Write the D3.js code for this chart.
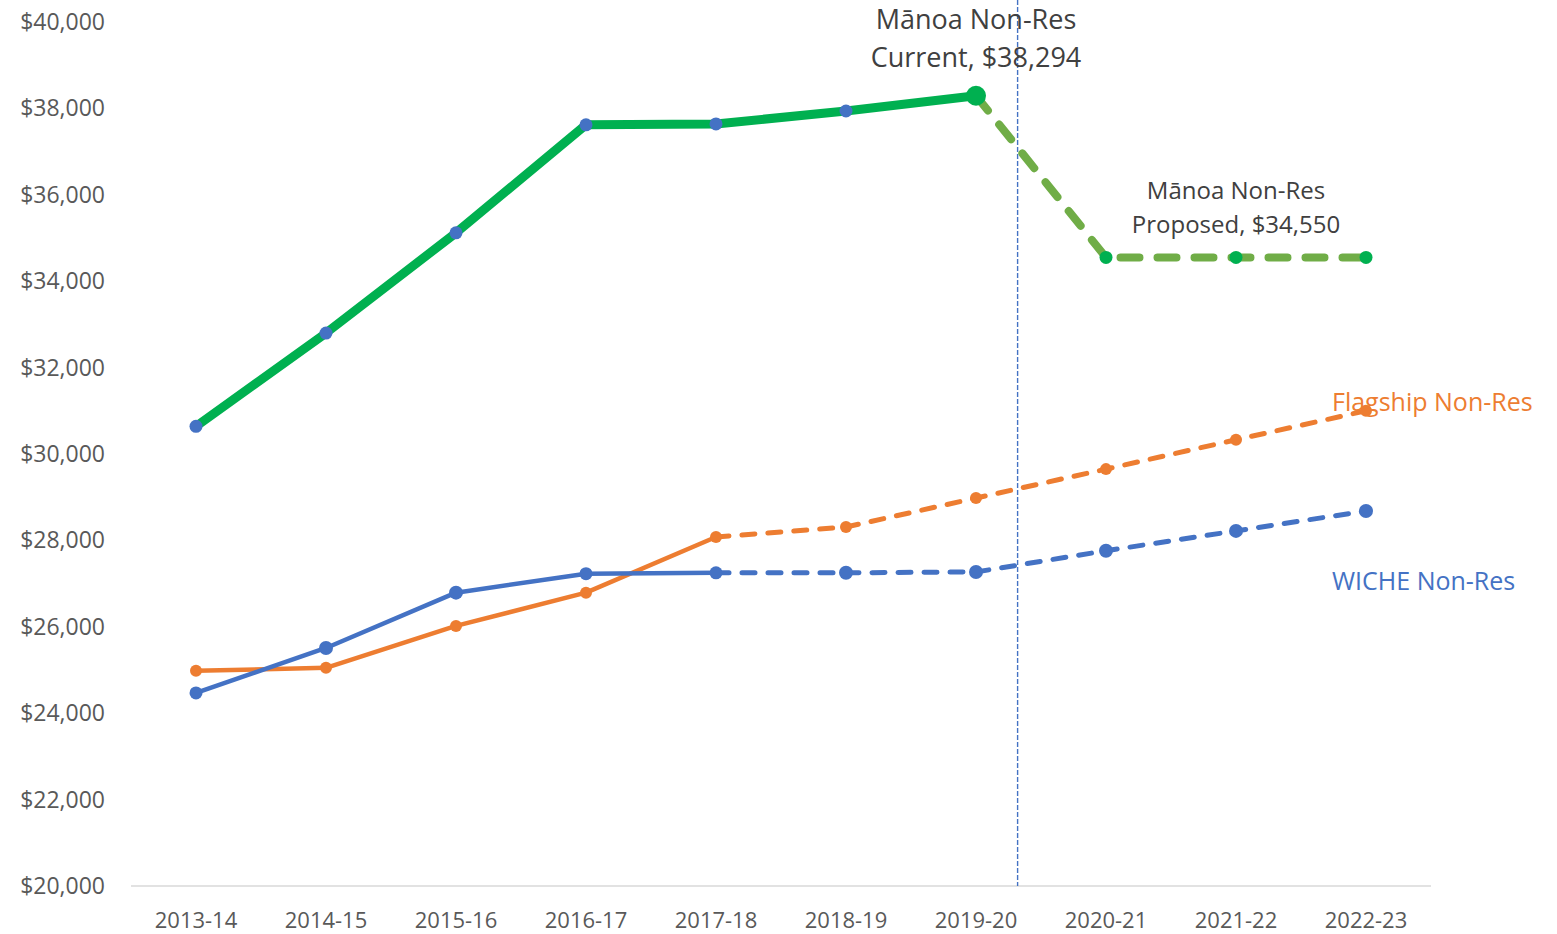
<!DOCTYPE html>
<html>
<head>
<meta charset="utf-8">
<script src="https://cdn.jsdelivr.net/npm/d3@7"></script>
<style>
  body { margin: 0; background: #fff; }
  text { font-family: "Open Sans", "Noto Sans", sans-serif; }
</style>
</head>
<body>
<svg id="chart" width="1557" height="934"></svg>
<script>
// categories and values
const years = ['2013-14', '2014-15', '2015-16', '2016-17', '2017-18', '2018-19', '2019-20', '2020-21', '2021-22', '2022-23'];
const manoa = [30640, 32800, 35120, 37620, 37640, 37940, 38294, 34550, 34550, 34550];
const flagship = [24980, 25050, 26020, 26790, 28080, 28310, 28980, 29650, 30330, 31000];
const wiche = [24470, 25510, 26790, 27230, 27250, 27250, 27270, 27760, 28220, 28680];
const yTicks = [20000, 22000, 24000, 26000, 28000, 30000, 32000, 34000, 36000, 38000, 40000];

const svg = d3.select('#chart');

const x = d3.scaleBand().domain(years).range([131, 1431]);
const y = d3.scaleLinear().domain([20000, 40000]).range([886, 22]);
const cx = d => x(d) + x.bandwidth() / 2;

const fmt = d3.format('$,');

// y labels (no axis line in the original)
svg.append('g')
    .selectAll('text')
    .data(yTicks)
    .join('text')
    .attr('x', 105)
    .attr('y', d => y(d))
    .attr('dy', '0.35em')
    .attr('text-anchor', 'end')
    .attr('font-size', 23)
    .attr('fill', '#595959')
    .text(d => fmt(d));

// x axis
svg.append('line')
    .attr('x1', 131).attr('x2', 1431)
    .attr('y1', y(20000)).attr('y2', y(20000))
    .attr('stroke', '#d9d9d9').attr('stroke-width', 1.5);

svg.append('g')
    .selectAll('text')
    .data(years)
    .join('text')
    .attr('x', d => cx(d))
    .attr('y', 928)
    .attr('text-anchor', 'middle')
    .attr('font-size', 22)
    .attr('fill', '#595959')
    .text(d => d);

// vertical marker between 2019-20 and 2020-21
const divX = x('2019-20') + x.bandwidth() * 0.82;
svg.append('line')
    .attr('x1', divX).attr('x2', divX)
    .attr('y1', 0).attr('y2', y(20000))
    .attr('stroke', '#4472c4').attr('stroke-width', 1.4)
    .attr('stroke-dasharray', '5,2');

const line = d3.line().x(d => cx(d.year)).y(d => y(d.v));
const pts = arr => arr.map((v, i) => ({ year: years[i], v: v }));

function drawSeries(values, split, opt) {
    const p = pts(values);
    svg.append('path')
        .attr('d', line(p.slice(0, split + 1)))
        .attr('fill', 'none')
        .attr('stroke', opt.color)
        .attr('stroke-width', opt.width)
        .attr('stroke-linejoin', 'round');
    svg.append('path')
        .attr('d', line(p.slice(split)))
        .attr('fill', 'none')
        .attr('stroke', opt.dashColor || opt.color)
        .attr('stroke-width', opt.dashWidth || opt.width)
        .attr('stroke-linecap', 'round')
        .attr('stroke-dasharray', opt.dash);
}

// flagship (orange)
drawSeries(flagship, 4, { color: '#ed7d31', width: 4.5, dashWidth: 5, dash: '13,13' });
svg.append('g').selectAll('circle')
    .data(pts(flagship)).join('circle')
    .attr('cx', d => cx(d.year)).attr('cy', d => y(d.v))
    .attr('r', 6).attr('fill', '#ed7d31');

// WICHE (blue)
drawSeries(wiche, 4, { color: '#4472c4', width: 4.5, dashWidth: 5, dash: '13,13' });
svg.append('g').selectAll('circle')
    .data(pts(wiche)).join('circle')
    .attr('cx', d => cx(d.year)).attr('cy', d => y(d.v))
    .attr('r', (d, i) => i < 5 && i !== 1 && i !== 2 ? 6.5 : 7)
    .attr('fill', '#4472c4');

// Manoa (green)
drawSeries(manoa, 6, { color: '#00b050', width: 9, dashColor: '#70ad47', dashWidth: 8, dash: '19,18' });
svg.append('g').selectAll('circle')
    .data(pts(manoa)).join('circle')
    .attr('cx', d => cx(d.year)).attr('cy', d => y(d.v))
    .attr('r', (d, i) => i === 6 ? 10 : 6.5)
    .attr('fill', (d, i) => i < 6 ? '#4472c4' : '#00b050');

// annotations
function label(lines, xPos, yPos, size, color, anchor, gap) {
    const t = svg.append('text')
        .attr('x', xPos).attr('y', yPos)
        .attr('text-anchor', anchor)
        .attr('font-size', size)
        .attr('fill', color);
    lines.forEach((s, i) => {
        t.append('tspan').attr('x', xPos).attr('dy', i === 0 ? '0.35em' : gap).text(s);
    });
}
label(['Mānoa Non-Res', 'Current, ' + fmt(manoa[6])], cx('2019-20'), 20, 27, '#404040', 'middle', 38);
label(['Mānoa Non-Res', 'Proposed, ' + fmt(manoa[9])], cx('2021-22'), 191, 24, '#404040', 'middle', 34);
label(['Flagship Non-Res'], 1332, 402, 25, '#ed7d31', 'start', 0);
label(['WICHE Non-Res'], 1332, 581, 25, '#4472c4', 'start', 0);
</script>
</body>
</html>
